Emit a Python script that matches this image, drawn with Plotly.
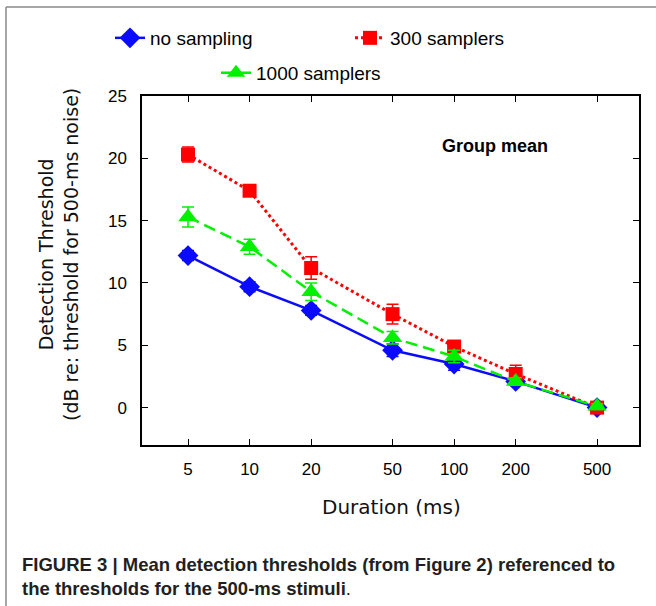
import plotly.graph_objects as go

durations = [5, 10, 20, 50, 100, 200, 500]
tick_labels = ["5", "10", "20", "50", "100", "200", "500"]

no_sampling = [12.2, 9.7, 7.8, 4.6, 3.5, 2.1, 0.0]
no_sampling_err = [0.4, 0.4, 0.4, 0.5, 0.5, 0.3, 0.2]

samplers_300 = [20.3, 17.4, 11.2, 7.5, 4.9, 2.7, 0.0]
samplers_300_err = [0.6, 0.3, 0.9, 0.8, 0.4, 0.7, 0.2]

samplers_1000 = [15.3, 12.9, 9.3, 5.6, 4.1, 2.1, 0.1]
samplers_1000_err = [0.8, 0.6, 0.7, 0.5, 0.5, 0.3, 0.2]

BLUE = "#0a0aff"
RED = "#ff0000"
GREEN = "#00f000"

W, H = 656, 606
L, R, T, B = 142, 17, 96, 161
PW = W - L - R
PH = H - T - B


def px(xp):
    return (xp - L) / PW


def py(yp):
    return (H - B - yp) / PH


fig = go.Figure()

fig.add_trace(go.Scatter(
    x=durations, y=no_sampling, name="no sampling", legend="legend",
    mode="lines+markers",
    line=dict(color=BLUE, width=2.5),
    marker=dict(symbol="diamond", size=16, color=BLUE),
    error_y=dict(type="data", array=no_sampling_err, color=BLUE, thickness=1.5, width=6),
))
fig.add_trace(go.Scatter(
    x=durations, y=samplers_300, name="300 samplers", legend="legend",
    mode="lines+markers",
    line=dict(color=RED, width=3, dash="3px,3px"),
    marker=dict(symbol="square", size=14, color=RED),
    error_y=dict(type="data", array=samplers_300_err, color=RED, thickness=1.5, width=6),
))
fig.add_trace(go.Scatter(
    x=durations, y=samplers_1000, name="1000 samplers", legend="legend2",
    mode="lines+markers",
    line=dict(color=GREEN, width=2.5, dash="12px,6px"),
    marker=dict(symbol="triangle-up", size=17, color=GREEN),
    error_y=dict(type="data", array=samplers_1000_err, color=GREEN, thickness=1.5, width=6),
))

axis_common = dict(
    showline=True, linecolor="black", linewidth=1.5, mirror="allticks",
    ticks="inside", ticklen=6, tickwidth=1.2, tickcolor="black",
    showgrid=False, zeroline=False,
    tickfont=dict(family="Liberation Sans, Arial, sans-serif", size=17, color="black"),
)

fig.update_xaxes(
    type="log", range=[0.474, 2.904],
    tickvals=durations, ticktext=tick_labels,
    ticklabelstandoff=8,
    **axis_common,
)
fig.update_yaxes(
    range=[-3, 25], tickvals=[0, 5, 10, 15, 20, 25],
    ticklabelstandoff=10,
    **axis_common,
)

legend_font = dict(family="Liberation Sans, Arial, sans-serif", size=19, color="black")
fig.update_layout(
    width=W, height=H,
    margin=dict(l=L, r=R, t=T, b=B, autoexpand=False),
    paper_bgcolor="white", plot_bgcolor="white",
    legend=dict(
        orientation="h", x=px(110), y=py(38), xanchor="left", yanchor="middle",
        entrywidth=195, entrywidthmode="pixels",
        font=legend_font, bgcolor="rgba(0,0,0,0)", itemwidth=30,
        tracegroupgap=0,
    ),
    legend2=dict(
        orientation="h", x=px(216), y=py(73), xanchor="left", yanchor="middle",
        font=legend_font, bgcolor="rgba(0,0,0,0)", itemwidth=30,
    ),
    showlegend=True,
)

fig.add_annotation(
    text="<b>Group mean</b>", x=px(495), y=py(146), xref="paper", yref="paper",
    showarrow=False, xanchor="center", yanchor="middle",
    font=dict(family="Liberation Sans, Arial, sans-serif", size=18, color="black"),
)
fig.add_annotation(
    text="Duration (ms)", x=px(391), y=py(507), xref="paper", yref="paper",
    showarrow=False, xanchor="center", yanchor="middle",
    font=dict(family="DejaVu Sans, sans-serif", size=20, color="#111111"),
)
fig.add_annotation(
    text="Detection Threshold<br>(dB re: threshold for 500-ms noise)",
    x=px(58), y=py(255), xref="paper", yref="paper",
    showarrow=False, xanchor="center", yanchor="middle", textangle=-90,
    font=dict(family="DejaVu Sans, sans-serif", size=19, color="#111111"),
)
fig.add_annotation(
    text="<b>FIGURE 3 | Mean detection thresholds (from Figure 2) referenced to</b><br>"
         "<b>the thresholds for the 500-ms stimuli</b>.",
    x=px(20), y=py(576), xref="paper", yref="paper",
    showarrow=False, xanchor="left", yanchor="middle", align="left",
    font=dict(family="Liberation Sans, Arial, sans-serif", size=18.5, color="#231f20"),
)

# outer frame (top and left edges)
fig.add_shape(type="line", xref="paper", yref="paper",
              x0=px(6), x1=px(660), y0=py(7), y1=py(7),
              line=dict(color="#888888", width=1.5))
fig.add_shape(type="line", xref="paper", yref="paper",
              x0=px(6), x1=px(6), y0=py(7), y1=py(610),
              line=dict(color="#888888", width=1.5))

fig.write_html(
    "out.html",
    config={"displayModeBar": False},
    post_script="document.body.style.margin='0';document.body.style.overflow='hidden';",
)
